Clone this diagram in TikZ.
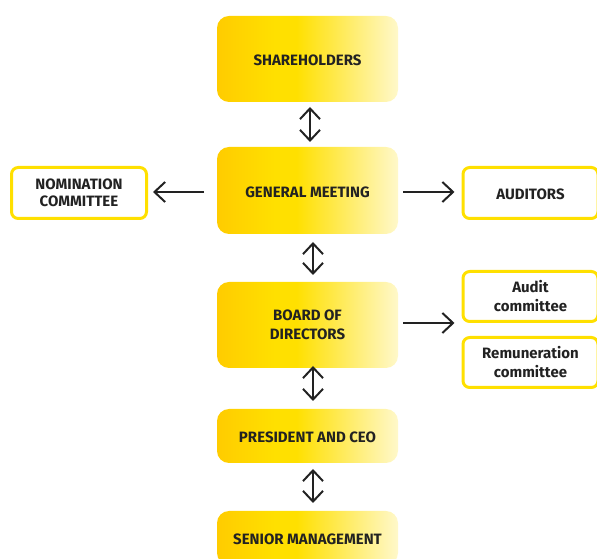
\documentclass[tikz,border=0pt]{standalone}
\usepackage{fontspec}
\setmainfont{Fira Sans}
\usetikzlibrary{arrows.meta,calc}
\definecolor{ya}{HTML}{FFCC00}
\definecolor{yb}{HTML}{FFE000}
\definecolor{yc}{HTML}{FFF8CA}
\definecolor{ink}{HTML}{222222}
\pgfdeclarehorizontalshading{ygrad}{100bp}{color(0bp)=(ya); color(25bp)=(ya); color(41bp)=(yb); color(47bp)=(yb); color(75bp)=(yc); color(100bp)=(yc)}
\begin{document}
\begin{tikzpicture}[x=0.75pt,y=-0.75pt,
  mainbox/.style={shading=ygrad, rounded corners=9pt, minimum width=181*0.75pt,
    inner sep=0pt, outer sep=0pt, text=ink, align=center,
    font=\bfseries\fontsize{11.25}{14.25}\selectfont},
  oneline/.style={text height=10pt, text depth=0pt},
  sidebox/.style={draw=yb, line width=2.25pt, fill=white, rounded corners=5pt,
    minimum width=135*0.75pt, minimum height=51*0.75pt, inner sep=0pt, outer sep=0pt,
    text=ink, align=center, font=\bfseries\fontsize{11.25}{13.5}\selectfont},
  conn/.style={draw=ink, line width=1.5pt, -{Straight Barb[length=8pt,width=15pt,line width=1.5pt]}},
  dbl/.style={draw=ink, line width=1.5pt, {Straight Barb[length=8pt,width=15pt,line width=1.5pt]}-{Straight Barb[length=8pt,width=15pt,line width=1.5pt]}}
]
\useasboundingbox (0,0) rectangle (597,559);
\node[mainbox, oneline, minimum height=86*0.75pt] (sh) at (307.5,59) {SHAREHOLDERS};
\node[mainbox, oneline, minimum height=87*0.75pt] (gm) at (307.5,190.5) {GENERAL MEETING};
\node[mainbox, minimum height=86*0.75pt, font=\bfseries\fontsize{11.25}{14.25}\selectfont] (bd) at (307.5,325) {BOARD OF\\DIRECTORS};
\node[mainbox, oneline, minimum height=54*0.75pt] (pr) at (307.5,436) {PRESIDENT AND CEO};
\node[mainbox, oneline, minimum height=54*0.75pt] (sm) at (307.5,538) {SENIOR MANAGEMENT};
\node[sidebox, font=\bfseries\fontsize{11.25}{12.75}\selectfont] (nom) at (79,193) {NOMINATION\\COMMITTEE};
\node[sidebox, oneline] (aud) at (530.5,193) {AUDITORS};
\node[sidebox, minimum height=50*0.75pt, font=\bfseries\fontsize{11.25}{14.25}\selectfont] (ac) at (530.5,296.5) {Audit\\committee};
\node[sidebox, minimum height=50*0.75pt, font=\bfseries\fontsize{11.25}{14.25}\selectfont] (rc) at (530.5,362.5) {Remuneration\\committee};
\draw[dbl] ($(sh.south)+(2.5,5)$) -- ($(gm.north)+(2.5,-5)$);
\draw[dbl] ($(gm.south)+(5.5,8)$) -- ($(bd.north)+(5.5,-7)$);
\draw[dbl] ($(bd.south)+(5.5,-2)$) -- ($(pr.north)+(5.5,-8)$);
\draw[dbl] ($(pr.south)+(5.5,6)$) -- ($(sm.north)+(5.5,-8)$);
\coordinate (gl) at ($(gm.west)+(-13,1.5)$);
\coordinate (gr) at ($(gm.east)+(5,1.5)$);
\coordinate (br) at ($(bd.east)+(5,-2)$);
\draw[conn] (gl) -- ($(gl -| nom.east)+(6.5,0)$);
\draw[conn] (gr) -- ($(gr -| aud.west)+(-8.5,0)$);
\draw[conn] (br) -- ($(br -| ac.west)+(-8.5,0)$);
\end{tikzpicture}
\end{document}
